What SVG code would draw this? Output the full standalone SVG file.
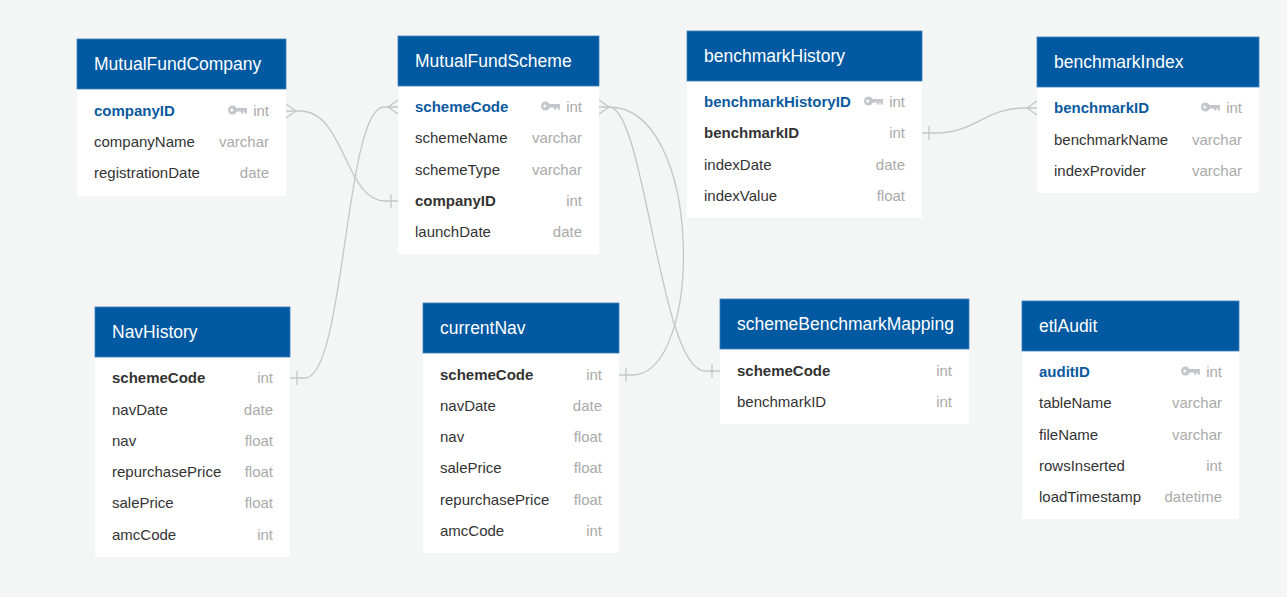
<svg xmlns="http://www.w3.org/2000/svg" xmlns:xlink="http://www.w3.org/1999/xlink" width="1287" height="597" viewBox="0 0 1287 597">
<style>
.hdr{fill:#0059a1;stroke:#3f7fbf;stroke-width:0.8}
.body{fill:#ffffff}
.title{font-family:"Liberation Sans",Arial,sans-serif;font-size:17.5px;fill:#ffffff}
.f{font-family:"Liberation Sans",Arial,sans-serif;font-size:15px;fill:#333333}
.pk{font-weight:bold;fill:#0b5a9e}
.fk{font-weight:bold;fill:#333333}
.t{font-family:"Liberation Sans",Arial,sans-serif;font-size:15px;fill:#aaaaaa;text-anchor:end}
.conn{fill:none;stroke:#c6c6c6;stroke-width:1.3}
</style>
<defs>
<g id="key">
<circle cx="4.5" cy="0" r="4.5" fill="#c3c6ca"/>
<circle cx="3.8" cy="0" r="1.5" fill="#ffffff"/>
<rect x="8" y="-2" width="11" height="3.6" fill="#c3c6ca"/>
<rect x="13" y="1" width="2.2" height="2.6" fill="#c3c6ca"/>
<rect x="16.6" y="1" width="2.2" height="2.6" fill="#c3c6ca"/>
</g>
</defs>
<rect x="0" y="0" width="1287" height="597" fill="#f4f5f5"/>

<g id="connectors">
<path class="conn" d="M286,111 L300,111 C345,111 345,201 385,201 L398,201"/>
<path class="conn" d="M286,104 L296,111 L286,118"/>
<path class="conn" d="M391,194 L391,208"/>

<path class="conn" d="M398,107 L384,107 C345,107 345,378 305,378 L290,378"/>
<path class="conn" d="M398,100 L388,107 L398,114"/>
<path class="conn" d="M297,371 L297,385"/>

<path class="conn" d="M599,107 L609,107 C704,107 704,375 632,375 L619,375"/>
<path class="conn" d="M609,107 C645,107 660,371 705,371 L720,371"/>
<path class="conn" d="M599,100 L609,107 L599,114"/>
<path class="conn" d="M626,368 L626,382"/>
<path class="conn" d="M712,364 L712,378"/>

<path class="conn" d="M922,133 L936,133 C975,133 985,108 1025,108 L1037,108"/>
<path class="conn" d="M1037,101 L1027,108 L1037,115"/>
<path class="conn" d="M929,126 L929,140"/>
</g>

<g id="MutualFundCompany">
<rect class="body" x="77" y="89" width="209" height="107"/>
<rect class="hdr" x="77" y="39" width="209" height="50"/>
<text class="title" x="94" y="70">MutualFundCompany</text>
<text class="f pk" x="94" y="116.4">companyID</text>
<use xlink:href="#key" href="#key" x="228" y="110"/>
<text class="t" x="269" y="116.4">int</text>
<text class="f" x="94" y="147.4">companyName</text>
<text class="t" x="269" y="147.4">varchar</text>
<text class="f" x="94" y="178.4">registrationDate</text>
<text class="t" x="269" y="178.4">date</text>
</g>

<g id="MutualFundScheme">
<rect class="body" x="398" y="86" width="201" height="168"/>
<rect class="hdr" x="398" y="36" width="201" height="50"/>
<text class="title" x="415" y="67">MutualFundScheme</text>
<text class="f pk" x="415" y="112.4">schemeCode</text>
<use xlink:href="#key" href="#key" x="541" y="106"/>
<text class="t" x="582" y="112.4">int</text>
<text class="f" x="415" y="143.4">schemeName</text>
<text class="t" x="582" y="143.4">varchar</text>
<text class="f" x="415" y="175.4">schemeType</text>
<text class="t" x="582" y="175.4">varchar</text>
<text class="f fk" x="415" y="206.4">companyID</text>
<text class="t" x="582" y="206.4">int</text>
<text class="f" x="415" y="237.4">launchDate</text>
<text class="t" x="582" y="237.4">date</text>
</g>

<g id="benchmarkHistory">
<rect class="body" x="687" y="81" width="235" height="137"/>
<rect class="hdr" x="687" y="31" width="235" height="50"/>
<text class="title" x="704" y="62">benchmarkHistory</text>
<text class="f pk" x="704" y="107.4">benchmarkHistoryID</text>
<use xlink:href="#key" href="#key" x="864" y="101"/>
<text class="t" x="905" y="107.4">int</text>
<text class="f fk" x="704" y="138.4">benchmarkID</text>
<text class="t" x="905" y="138.4">int</text>
<text class="f" x="704" y="170.4">indexDate</text>
<text class="t" x="905" y="170.4">date</text>
<text class="f" x="704" y="201.4">indexValue</text>
<text class="t" x="905" y="201.4">float</text>
</g>

<g id="benchmarkIndex">
<rect class="body" x="1037" y="87" width="222" height="106"/>
<rect class="hdr" x="1037" y="37" width="222" height="50"/>
<text class="title" x="1054" y="68">benchmarkIndex</text>
<text class="f pk" x="1054" y="113.4">benchmarkID</text>
<use xlink:href="#key" href="#key" x="1201" y="107"/>
<text class="t" x="1242" y="113.4">int</text>
<text class="f" x="1054" y="145.4">benchmarkName</text>
<text class="t" x="1242" y="145.4">varchar</text>
<text class="f" x="1054" y="176.4">indexProvider</text>
<text class="t" x="1242" y="176.4">varchar</text>
</g>

<g id="NavHistory">
<rect class="body" x="95" y="357" width="195" height="200"/>
<rect class="hdr" x="95" y="307" width="195" height="50"/>
<text class="title" x="112" y="338">NavHistory</text>
<text class="f fk" x="112" y="383.4">schemeCode</text>
<text class="t" x="273" y="383.4">int</text>
<text class="f" x="112" y="415.4">navDate</text>
<text class="t" x="273" y="415.4">date</text>
<text class="f" x="112" y="446.4">nav</text>
<text class="t" x="273" y="446.4">float</text>
<text class="f" x="112" y="477.4">repurchasePrice</text>
<text class="t" x="273" y="477.4">float</text>
<text class="f" x="112" y="508.4">salePrice</text>
<text class="t" x="273" y="508.4">float</text>
<text class="f" x="112" y="540.4">amcCode</text>
<text class="t" x="273" y="540.4">int</text>
</g>

<g id="currentNav">
<rect class="body" x="423" y="353" width="196" height="200"/>
<rect class="hdr" x="423" y="303" width="196" height="50"/>
<text class="title" x="440" y="334">currentNav</text>
<text class="f fk" x="440" y="380.4">schemeCode</text>
<text class="t" x="602" y="380.4">int</text>
<text class="f" x="440" y="411.4">navDate</text>
<text class="t" x="602" y="411.4">date</text>
<text class="f" x="440" y="442.4">nav</text>
<text class="t" x="602" y="442.4">float</text>
<text class="f" x="440" y="473.4">salePrice</text>
<text class="t" x="602" y="473.4">float</text>
<text class="f" x="440" y="505.4">repurchasePrice</text>
<text class="t" x="602" y="505.4">float</text>
<text class="f" x="440" y="536.4">amcCode</text>
<text class="t" x="602" y="536.4">int</text>
</g>

<g id="schemeBenchmarkMapping">
<rect class="body" x="720" y="349" width="249" height="75"/>
<rect class="hdr" x="720" y="299" width="249" height="50"/>
<text class="title" x="737" y="330">schemeBenchmarkMapping</text>
<text class="f fk" x="737" y="376.4">schemeCode</text>
<text class="t" x="952" y="376.4">int</text>
<text class="f" x="737" y="407.4">benchmarkID</text>
<text class="t" x="952" y="407.4">int</text>
</g>

<g id="etlAudit">
<rect class="body" x="1022" y="351" width="217" height="168"/>
<rect class="hdr" x="1022" y="301" width="217" height="50"/>
<text class="title" x="1039" y="332">etlAudit</text>
<text class="f pk" x="1039" y="377.4">auditID</text>
<use xlink:href="#key" href="#key" x="1181" y="371"/>
<text class="t" x="1222" y="377.4">int</text>
<text class="f" x="1039" y="408.4">tableName</text>
<text class="t" x="1222" y="408.4">varchar</text>
<text class="f" x="1039" y="440.4">fileName</text>
<text class="t" x="1222" y="440.4">varchar</text>
<text class="f" x="1039" y="471.4">rowsInserted</text>
<text class="t" x="1222" y="471.4">int</text>
<text class="f" x="1039" y="502.4">loadTimestamp</text>
<text class="t" x="1222" y="502.4">datetime</text>
</g>
</svg>
